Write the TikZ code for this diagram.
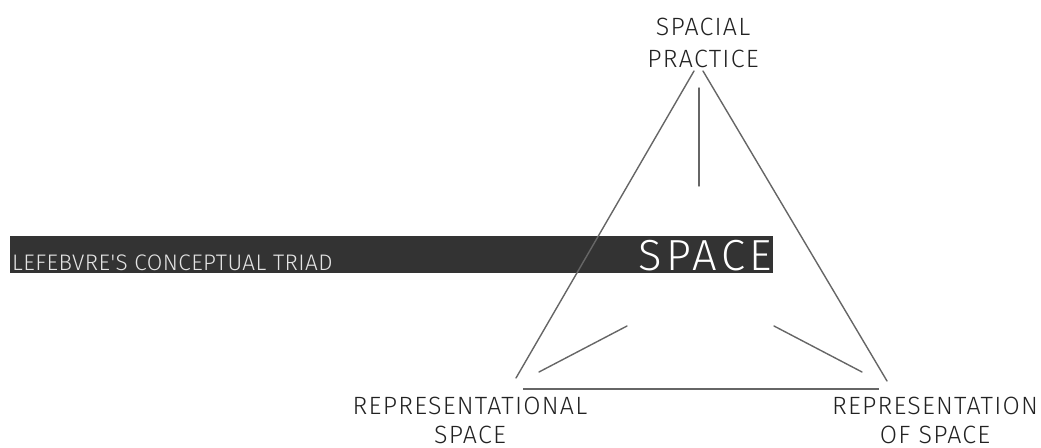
\documentclass[tikz,border=0pt]{standalone}
\usepackage{fontspec}
\newfontfamily\lblfont[LetterSpace=5]{Fira Sans Light}
\newfontfamily\titlefont[LetterSpace=2]{Fira Sans Light}
\newfontfamily\bigfont[LetterSpace=10]{Fira Sans Light}
\definecolor{barc}{HTML}{333333}
\definecolor{linec}{HTML}{666666}
\definecolor{txtc}{HTML}{222222}
\definecolor{bartxt}{HTML}{E4E4E4}
\tikzset{
  tri/.style={draw=linec, line width=1.4pt, line cap=round},
  lbl/.style={text=txtc, font=\lblfont\fontsize{25}{30}\selectfont, inner sep=0pt, anchor=base, text depth=0pt},
}
\begin{document}
\begin{tikzpicture}[x=1pt,y=-1pt]
\useasboundingbox (0,0) rectangle (1041,447);
% bar
\node[fill=barc, minimum width=763pt, minimum height=37pt, inner sep=0pt, anchor=north west] (bar) at (10,236) {};
\node[anchor=base west, inner sep=0pt, text=bartxt, font=\titlefont\fontsize{22.5}{24}\selectfont] (title) at (12,270.5) {LEFEBVRE'S CONCEPTUAL TRIAD};
\node[anchor=base east, inner sep=0pt, text=white, font=\bigfont\fontsize{43.5}{44}\selectfont] (space) at (772,270) {SPACE};
% triangle
\coordinate (tl) at (694,71);
\coordinate (tr) at (703,71);
\coordinate (bl) at (516,378);
\coordinate (br) at (887,381);
\draw[tri] (tl) -- (bl);
\draw[tri] (tr) -- (br);
\coordinate (b1) at (523,389);
\coordinate (b2) at (879,389);
\draw[draw=linec, line width=2pt] (b1) -- (b2);
\coordinate (v1) at (699,88);
\coordinate (v2) at (699,186);
\draw[tri] (v1) -- (v2);
\coordinate (l1) at (539,372);
\coordinate (l2) at (627,326);
\draw[tri] (l1) -- (l2);
\coordinate (r1) at (774,326);
\coordinate (r2) at (862,372);
\draw[tri] (r1) -- (r2);
% labels
\node[lbl] (sp1) at (703,35) {SPACIAL};
\node[lbl] (sp2) at (703,67) {PRACTICE};
\node[lbl] (rs1) at (470,414) {REPRESENTATIONAL};
\node[lbl] (rs2) at (470,443) {SPACE};
\node[lbl] (ros1) at (935,414) {REPRESENTATION};
\node[lbl] (ros2) at (935,443) {OF SPACE};
\end{tikzpicture}
\end{document}
